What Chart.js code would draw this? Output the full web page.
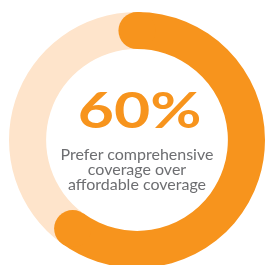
<!DOCTYPE html>
<html>
<head>
<meta charset="utf-8">
<script src="https://cdn.jsdelivr.net/npm/chart.js@4"></script>
<style>
  html, body { margin: 0; padding: 0; width: 266px; height: 265px; overflow: hidden; background: #fff; }
  #wrap { position: absolute; left: 9px; top: 12px; width: 256px; height: 256px; }
  .label { position: absolute; text-align: center; font-family: Lato, sans-serif; }
  #big { left: 0; width: 279px; top: 84px; font-size: 50px; line-height: 50px; font-weight: 700; color: #F7941D; }
  #big span { display: inline-block; transform: scaleX(1.25); }
  #sub { left: 0; width: 274px; top: 146px; font-size: 16px; line-height: 15px; color: #6D6E71; }
</style>
</head>
<body>
<div id="wrap"><canvas id="chart"></canvas></div>
<div class="label" id="big"><span>60%</span></div>
<div class="label" id="sub">Prefer comprehensive<br>coverage over<br>affordable coverage</div>

<script>
// share of respondents
const labels = ['Comprehensive coverage', 'Affordable coverage'];
const shares = [60, 40];
const colors = ['#F7941D', '#FEE4CB'];

// rounded ends on the first slice, taken from the arc element itself
const roundCaps = {
    id: 'roundCaps',
    afterDatasetsDraw(chart) {
        const arc = chart.getDatasetMeta(0).data[0];
        const p = arc.getProps(['x', 'y', 'startAngle', 'endAngle', 'innerRadius', 'outerRadius'], true);
        const mid = (p.innerRadius + p.outerRadius) / 2;
        const half = (p.outerRadius - p.innerRadius) / 2;
        const ctx = chart.ctx;
        ctx.save();
        ctx.fillStyle = arc.options.backgroundColor;
        [p.startAngle, p.endAngle].forEach(a => {
            ctx.beginPath();
            ctx.arc(p.x + mid * Math.cos(a), p.y + mid * Math.sin(a), half, 0, Math.PI * 2);
            ctx.fill();
        });
        ctx.restore();
    }
};

new Chart(document.getElementById('chart'), {
    type: 'doughnut',
    data: {
        labels: labels,
        datasets: [{
            data: shares,
            backgroundColor: colors,
            borderWidth: 0
        }]
    },
    options: {
        responsive: true,
        maintainAspectRatio: false,
        animation: false,
        cutout: '71%',
        events: [],
        layout: { padding: 0 },
        plugins: {
            legend: { display: false },
            tooltip: { enabled: false }
        }
    },
    plugins: [roundCaps]
});
</script>
</body>
</html>
